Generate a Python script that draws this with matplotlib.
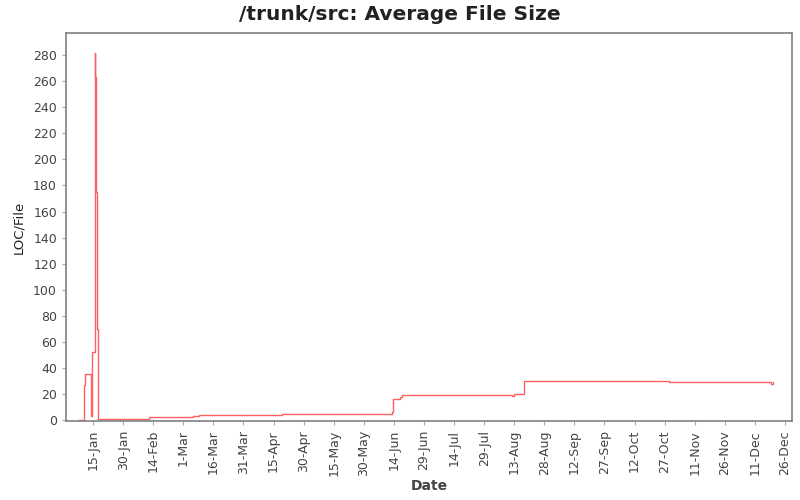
import matplotlib
matplotlib.use("Agg")
import matplotlib.pyplot as plt
import matplotlib.dates as mdates
import pandas as pd

# step points (date, LOC/File)
dates = [
    "2007-01-08 00:00", "2007-01-10 12:00", "2007-01-11 00:00", "2007-01-13 18:00",
    "2007-01-14 12:00", "2007-01-15 18:00", "2007-01-16 00:00", "2007-01-16 06:00",
    "2007-01-16 12:00", "2007-01-16 18:00", "2007-01-17 12:00", "2007-02-12 00:00",
    "2007-03-06 00:00", "2007-03-09 00:00", "2007-04-19 00:00", "2007-06-13 00:00",
    "2007-06-13 18:00", "2007-06-17 00:00", "2007-06-18 00:00", "2007-08-12 00:00",
    "2007-08-13 00:00", "2007-08-18 00:00", "2007-10-29 00:00", "2007-12-19 00:00",
    "2007-12-20 00:00",
]
values = [
    0.3, 27, 35, 3,
    52, 282, 263, 241,
    175, 70, 0.5, 2,
    3, 4, 5, 6,
    16, 18, 19, 18.5,
    20, 30, 29, 28,
    29,
]

tick_dates = pd.date_range("2007-01-15", periods=24, freq="15D")
y_ticks = list(range(0, 281, 20))

x = pd.to_datetime(dates, format="%Y-%m-%d %H:%M")

fig = plt.figure(figsize=(8, 5), dpi=100)
ax = fig.add_axes([0.0825, 0.158, 0.9075, 0.776])

ax.plot(x, values, drawstyle="steps-post", color="#ff4444", lw=1.0, alpha=0.85)

ax.set_xlim(pd.Timestamp("2007-01-01 12:00"), pd.Timestamp("2007-12-29 12:00"))
ax.set_ylim(-0.7, 297)
ax.set_xticks(tick_dates)
ax.xaxis.set_major_formatter(
    matplotlib.ticker.FuncFormatter(
        lambda v, p: "%d-%s" % (mdates.num2date(v).day, mdates.num2date(v).strftime("%b"))
    )
)
ax.set_yticks(y_ticks)

for lbl in ax.get_xticklabels():
    lbl.set_rotation(90)

ax.tick_params(axis="both", colors="#aaaaaa", labelcolor="#444444", labelsize=9,
               direction="out", length=3)
for s in ax.spines.values():
    s.set_color("#808080")
    s.set_linewidth(1.2)

fig.text(0.5, 0.972, "/trunk/src: Average File Size", ha="center", va="center",
         fontsize=14.5, fontweight="bold", color="#222222")
ax.set_xlabel("Date", fontsize=10, fontweight="bold", color="#444444", labelpad=2)
ax.set_ylabel("LOC/File", fontsize=9.5, color="#222222", labelpad=6)

fig.savefig("out.png")
